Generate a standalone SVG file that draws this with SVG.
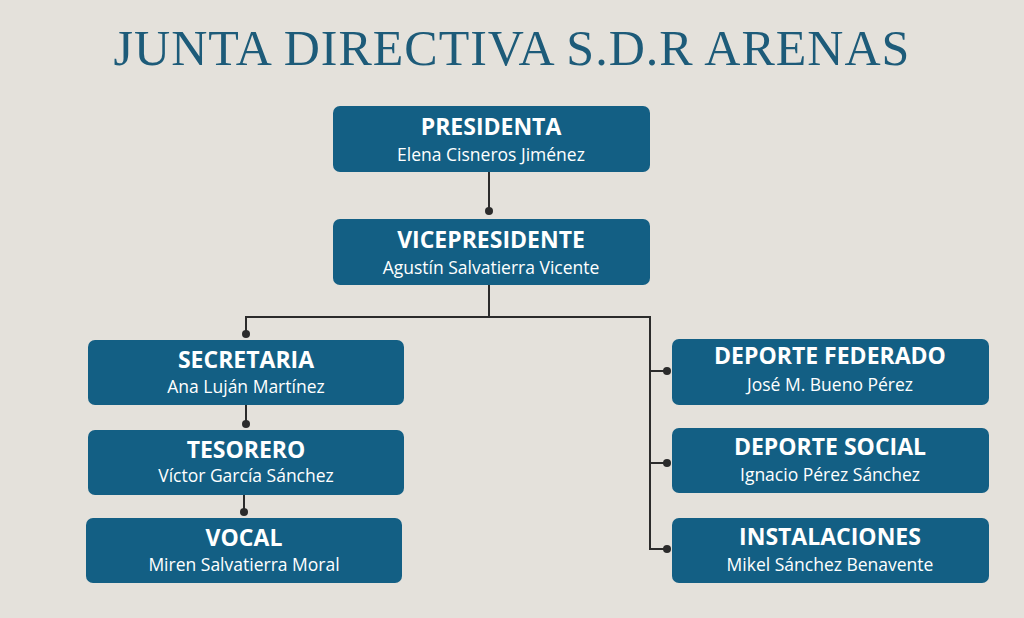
<svg xmlns="http://www.w3.org/2000/svg" width="1024" height="618" viewBox="0 0 1024 618">
<style>
.b{fill:#135f84}
.t{font-family:"Open Sans","Liberation Sans",sans-serif;font-weight:bold;font-size:23px;fill:#fff;text-anchor:middle}
.s{font-family:"Open Sans","Liberation Sans",sans-serif;font-size:17.5px;fill:#fff;text-anchor:middle}
.l{stroke:#2b2b2b;stroke-width:2;fill:none}
.d{fill:#2b2b2b}
</style>
<rect width="1024" height="618" fill="#e4e1db"/>
<text x="512" y="65" text-anchor="middle" font-family="'Liberation Serif',serif" font-size="50" fill="#1d5b79" letter-spacing="1">JUNTA DIRECTIVA S.D.R ARENAS</text>
<g id="connectors">
<path class="l" d="M489 172V211M489 285V317H246V334M489 317H650V549H667M650 371H667M650 463H667M246 405V424M244 495V512"/>
<circle class="d" cx="489" cy="211" r="4"/><circle class="d" cx="246" cy="334" r="4"/>
<circle class="d" cx="667" cy="371" r="4"/><circle class="d" cx="667" cy="463" r="4"/><circle class="d" cx="667" cy="549" r="4"/>
<circle class="d" cx="246" cy="424" r="4"/><circle class="d" cx="244" cy="512" r="4"/>
</g>
<g id="presidenta"><rect class="b" x="333" y="106" width="317" height="66" rx="7"/><text class="t" x="491" y="135">PRESIDENTA</text><text class="s" x="491" y="161">Elena Cisneros Jiménez</text></g>
<g id="vicepresidente"><rect class="b" x="333" y="219" width="317" height="66" rx="7"/><text class="t" x="491" y="248">VICEPRESIDENTE</text><text class="s" x="491" y="274">Agustín Salvatierra Vicente</text></g>
<g id="secretaria"><rect class="b" x="88" y="340" width="316" height="65" rx="7"/><text class="t" x="246" y="368">SECRETARIA</text><text class="s" x="246" y="393">Ana Luján Martínez</text></g>
<g id="tesorero"><rect class="b" x="88" y="430" width="316" height="65" rx="7"/><text class="t" x="246" y="458">TESORERO</text><text class="s" x="246" y="482">Víctor García Sánchez</text></g>
<g id="vocal"><rect class="b" x="86" y="518" width="316" height="65" rx="7"/><text class="t" x="244" y="546">VOCAL</text><text class="s" x="244" y="571">Miren Salvatierra Moral</text></g>
<g id="federado"><rect class="b" x="672" y="339" width="317" height="66" rx="7"/><text class="t" x="830" y="364">DEPORTE FEDERADO</text><text class="s" x="830" y="391">José M. Bueno Pérez</text></g>
<g id="social"><rect class="b" x="672" y="428" width="317" height="65" rx="7"/><text class="t" x="830" y="455">DEPORTE SOCIAL</text><text class="s" x="830" y="481">Ignacio Pérez Sánchez</text></g>
<g id="instalaciones"><rect class="b" x="672" y="518" width="317" height="65" rx="7"/><text class="t" x="830" y="545">INSTALACIONES</text><text class="s" x="830" y="571">Mikel Sánchez Benavente</text></g>
</svg>
